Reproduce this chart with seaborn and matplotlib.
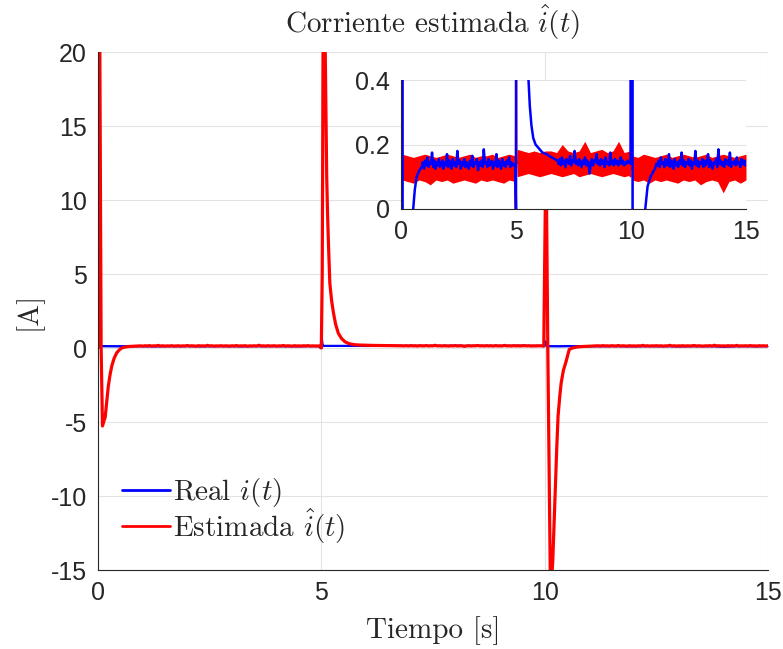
import numpy as np
import pandas as pd
import seaborn as sns
import matplotlib.pyplot as plt

# ---- data ----
# real current i(t): dense noisy band (lower / upper edge), one list per 5 s segment
real_lo_a = [0.09, 0.085, 0.08, 0.09, 0.085, 0.075, 0.09, 0.085, 0.09, 0.08, 0.085,
             0.09, 0.085, 0.08, 0.09, 0.085, 0.09, 0.085, 0.08, 0.09, 0.085]
real_hi_a = [0.17, 0.165, 0.16, 0.165, 0.17, 0.165, 0.16, 0.165, 0.17, 0.165, 0.16,
             0.165, 0.17, 0.16, 0.165, 0.165, 0.17, 0.16, 0.165, 0.17, 0.165]
real_lo_b = [0.1, 0.105, 0.11, 0.105, 0.1, 0.105, 0.11, 0.105, 0.1, 0.105, 0.11,
             0.1, 0.105, 0.11, 0.105, 0.1, 0.105, 0.11, 0.105, 0.1, 0.105]
real_hi_b = [0.185, 0.18, 0.175, 0.18, 0.175, 0.18, 0.18, 0.175, 0.2, 0.18, 0.175,
             0.18, 0.21, 0.175, 0.18, 0.185, 0.175, 0.18, 0.21, 0.175, 0.18]
real_lo_c = [0.09, 0.085, 0.09, 0.08, 0.09, 0.085, 0.09, 0.085, 0.08, 0.09, 0.085,
             0.09, 0.075, 0.085, 0.09, 0.085, 0.05, 0.085, 0.09, 0.08, 0.09]
real_hi_c = [0.165, 0.16, 0.17, 0.165, 0.16, 0.165, 0.17, 0.16, 0.165, 0.17, 0.165,
             0.16, 0.165, 0.17, 0.16, 0.165, 0.17, 0.165, 0.16, 0.165, 0.17]
# real current around the switching instants
real_tr0_t = [0.0, 0.03]
real_tr0_v = [0.04, 0.2]
real_tr5_t = [4.98, 5.01, 5.03]
real_tr5_v = [0.0, 0.7, 0.15]
real_tr10_t = [9.98, 10.02, 10.04]
real_tr10_v = [0.1, 0.45, 0.12]

# estimated current: transients
est_tr0_t = [0.0, 0.03, 0.07, 0.1, 0.14, 0.16, 0.2, 0.23, 0.27, 0.31, 0.36, 0.42,
             0.48, 0.53, 0.6, 0.68, 0.8]
est_tr0_v = [0.0, 28, 0.0, -5.27, -4.85, -4.7, -3.5, -2.6, -1.8, -1.2, -0.7, -0.32,
             -0.12, 0.0, 0.06, 0.1, 0.12]
est_tr5_t = [4.97, 5.0, 5.02, 5.05, 5.08, 5.1, 5.12, 5.14, 5.16, 5.19, 5.23, 5.27,
             5.32, 5.38, 5.45, 5.53, 5.6, 5.67, 5.75, 5.85, 5.97, 6.15, 6.33, 6.55]
est_tr5_v = [0.13, 0.0, 5.0, 28, 22, 17, 11.6, 9.0, 7.0, 4.4, 3.2, 2.4,
             1.6, 1.0, 0.65, 0.42, 0.32, 0.26, 0.22, 0.2, 0.19, 0.175, 0.17, 0.16]
est_tr10_t = [9.98, 10.03, 10.07, 10.13, 10.18, 10.23, 10.27, 10.3, 10.34, 10.37,
              10.42, 10.48, 10.55, 10.62, 10.72, 10.85, 11.0]
est_tr10_v = [0.14, 14, 0.0, -16.5, -14.5, -10.2, -6.8, -4.6, -3.2, -2.35,
              -1.5, -0.9, -0.1, 0.0, 0.07, 0.1, 0.12]
# estimated current: steady state, every 0.05 s
est_a = [0.13, 0.145, 0.125, 0.15, 0.135, 0.16, 0.13, 0.145, 0.14, 0.175,
         0.13, 0.15, 0.125, 0.145, 0.135, 0.155, 0.13, 0.14, 0.15, 0.125,
         0.145, 0.135, 0.17, 0.13, 0.15, 0.14, 0.125, 0.155, 0.135, 0.145,
         0.13, 0.18, 0.14, 0.15, 0.125, 0.145, 0.135, 0.155, 0.13, 0.145,
         0.14, 0.125, 0.15, 0.135, 0.165, 0.13, 0.145, 0.14, 0.155, 0.12,
         0.145, 0.135, 0.15, 0.13, 0.185, 0.14, 0.145, 0.13, 0.155, 0.135,
         0.14, 0.15, 0.125, 0.145, 0.135, 0.17, 0.13, 0.15, 0.14, 0.125,
         0.155, 0.135, 0.145, 0.13, 0.15, 0.14, 0.16, 0.13, 0.145, 0.135,
         0.14]
est_b = [0.15, 0.14, 0.155, 0.135, 0.16, 0.14, 0.15, 0.13, 0.155, 0.145,
         0.14, 0.165, 0.135, 0.15, 0.145, 0.18, 0.14, 0.15, 0.135, 0.155,
         0.145, 0.13, 0.15, 0.14, 0.16, 0.135, 0.15, 0.145, 0.11, 0.14,
         0.155, 0.135, 0.15, 0.145, 0.17, 0.14, 0.15, 0.135, 0.155, 0.14,
         0.15, 0.13, 0.16, 0.14, 0.145, 0.135, 0.175, 0.14, 0.15, 0.135,
         0.155, 0.14, 0.15, 0.135, 0.145, 0.16, 0.14, 0.15, 0.135, 0.145,
         0.14, 0.15, 0.145]
est_c = [0.125, 0.14, 0.135, 0.15, 0.13, 0.16, 0.14, 0.145, 0.13, 0.155,
         0.14, 0.135, 0.17, 0.13, 0.15, 0.14, 0.125, 0.155, 0.135, 0.145,
         0.13, 0.15, 0.14, 0.175, 0.135, 0.15, 0.13, 0.145, 0.14, 0.155,
         0.135, 0.15, 0.125, 0.145, 0.14, 0.18, 0.135, 0.15, 0.13, 0.145,
         0.14, 0.155, 0.13, 0.15, 0.135, 0.145, 0.17, 0.13, 0.15, 0.14,
         0.125, 0.145, 0.14, 0.155, 0.13, 0.185, 0.14, 0.15, 0.135, 0.145,
         0.13, 0.155, 0.14, 0.15, 0.135, 0.175, 0.13, 0.145, 0.14, 0.15,
         0.135, 0.16, 0.14, 0.145, 0.13, 0.155, 0.14, 0.15, 0.135, 0.15]

x_ticks = [0, 5, 10, 15]
y_ticks = [-15, -10, -5, 0, 5, 10, 15, 20]
y_ticklabels = ["-15", "-10", "-5", "0", "5", "10", "15", "20"]
inset_yticks = [0, 0.2, 0.4]
inset_yticklabels = ["0", "0.2", "0.4"]

# ---- assemble series ----
real = pd.concat([
    pd.DataFrame({"t": real_tr0_t, "lo": real_tr0_v, "hi": real_tr0_v}),
    pd.DataFrame({"t": np.linspace(0.05, 4.95, len(real_lo_a)), "lo": real_lo_a, "hi": real_hi_a}),
    pd.DataFrame({"t": real_tr5_t, "lo": real_tr5_v, "hi": real_tr5_v}),
    pd.DataFrame({"t": np.linspace(5.05, 9.95, len(real_lo_b)), "lo": real_lo_b, "hi": real_hi_b}),
    pd.DataFrame({"t": real_tr10_t, "lo": real_tr10_v, "hi": real_tr10_v}),
    pd.DataFrame({"t": np.linspace(10.05, 15.0, len(real_lo_c)), "lo": real_lo_c, "hi": real_hi_c}),
], ignore_index=True)
real["i"] = (real["lo"] + real["hi"]) / 2

est = pd.concat([
    pd.DataFrame({"t": est_tr0_t, "i": est_tr0_v}),
    pd.DataFrame({"t": np.linspace(0.9, 4.9, len(est_a)), "i": est_a}),
    pd.DataFrame({"t": est_tr5_t, "i": est_tr5_v}),
    pd.DataFrame({"t": np.linspace(6.8, 9.9, len(est_b)), "i": est_b}),
    pd.DataFrame({"t": est_tr10_t, "i": est_tr10_v}),
    pd.DataFrame({"t": np.linspace(11.05, 15.0, len(est_c)), "i": est_c}),
], ignore_index=True)

# ---- style ----
sns.set_theme(style="whitegrid")
plt.rcParams["font.family"] = ["cmr10", "DejaVu Serif"]
plt.rcParams["mathtext.fontset"] = "cm"
plt.rcParams["axes.unicode_minus"] = False
tick_font = {"family": ["Liberation Sans Narrow", "Liberation Sans"], "size": 18}

BLUE = (0, 0, 1)
RED = (1, 0, 0)


def style_axes(ax):
    for side in ["top", "right"]:
        ax.spines[side].set_visible(False)
    for side in ["left", "bottom"]:
        ax.spines[side].set_color("#262626")
        ax.spines[side].set_linewidth(0.8)
    ax.grid(True, color="#e3e3e3", linewidth=0.8)
    ax.set_facecolor("white")
    ax.tick_params(direction="in", length=5, width=0.8, color="#262626",
                   labelcolor="#262626")
    ax.tick_params(axis="x", pad=8)
    ax.tick_params(axis="y", pad=8)


fig = plt.figure(figsize=(7.83, 6.49), dpi=100)
ax = fig.add_axes([98 / 783, 79 / 649, 670 / 783, 518 / 649])

ax.fill_between(real["t"], real["lo"], real["hi"], color=BLUE, linewidth=0)
sns.lineplot(data=real, x="t", y="i", ax=ax, color=BLUE, linewidth=1.6,
             estimator=None, sort=False, label=r"Real $i(t)$")
sns.lineplot(data=est, x="t", y="i", ax=ax, color=RED, linewidth=2.3,
             estimator=None, sort=False, label=r"Estimada $\hat{i}(t)$")

ax.set_xlim(0, 15)
ax.set_ylim(-15, 20)
ax.set_xticks(x_ticks)
ax.set_xticklabels([str(v) for v in x_ticks], fontdict=tick_font)
ax.set_yticks(y_ticks)
ax.set_yticklabels(y_ticklabels, fontdict=tick_font)
style_axes(ax)
ax.set_title(r"Corriente estimada $\hat{i}(t)$", fontsize=21, pad=14)
ax.set_xlabel("Tiempo [s]", fontsize=21, labelpad=8)
ax.set_ylabel("[A]", fontsize=21, labelpad=6)

leg = ax.legend(loc="lower left", bbox_to_anchor=(0.036, 0.047), frameon=False,
                fontsize=21, handlelength=1.65, handletextpad=0.1,
                labelspacing=-0.1, borderaxespad=0, borderpad=0)
for line in leg.get_lines():
    line.set_linewidth(2)

# ---- inset ----
axi = fig.add_axes([401 / 783, (649 - 209) / 649, 345 / 783, 129 / 649])
axi.fill_between(real["t"], real["lo"], real["hi"], color=RED, linewidth=0)
sns.lineplot(data=real, x="t", y="i", ax=axi, color=RED, linewidth=1.2,
             estimator=None, sort=False, legend=False)
sns.lineplot(data=est, x="t", y="i", ax=axi, color=BLUE, linewidth=1.8,
             estimator=None, sort=False, legend=False)
axi.set_xlim(0, 15)
axi.set_ylim(0, 0.4)
axi.set_xticks(x_ticks)
axi.set_xticklabels([str(v) for v in x_ticks], fontdict=tick_font)
axi.set_yticks(inset_yticks)
axi.set_yticklabels(inset_yticklabels, fontdict=tick_font)
axi.set_xlabel("")
axi.set_ylabel("")
style_axes(axi)

fig.savefig("out.png", dpi=100)
